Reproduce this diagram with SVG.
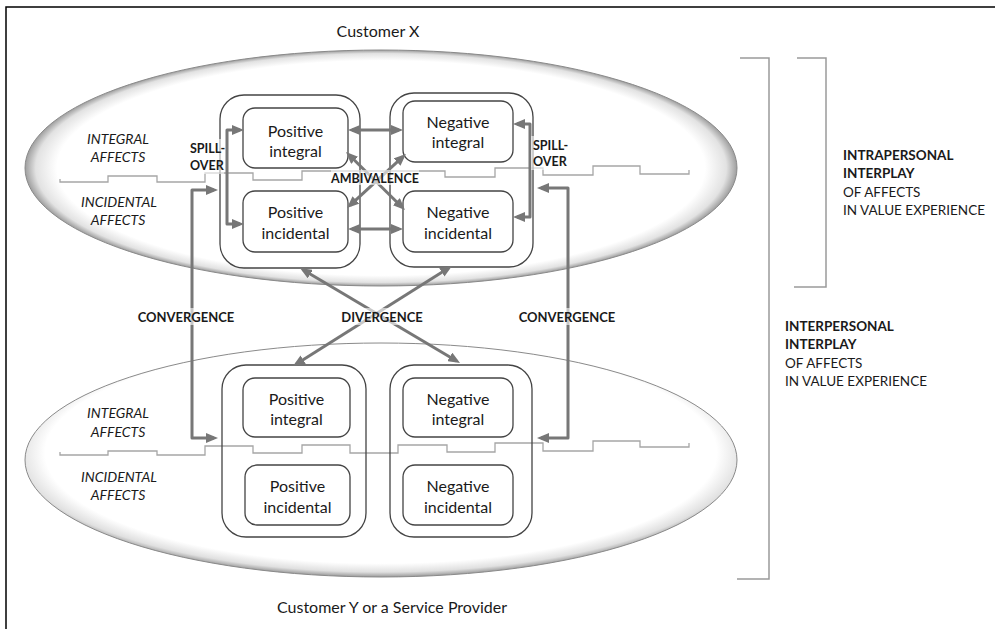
<svg xmlns="http://www.w3.org/2000/svg" width="995" height="629" viewBox="0 0 995 629">
  <defs>
    <radialGradient id="ovalShadeTop" cx="0.5" cy="0.5" r="0.5">
      <stop offset="0" stop-color="#ffffff"/>
      <stop offset="0.91" stop-color="#ffffff"/>
      <stop offset="0.97" stop-color="#e2e2e2"/>
      <stop offset="1" stop-color="#9e9e9e"/>
    </radialGradient>
    <radialGradient id="ovalShadeBottom" cx="0.5" cy="0.47" r="0.53">
      <stop offset="0" stop-color="#ffffff"/>
      <stop offset="0.89" stop-color="#ffffff"/>
      <stop offset="0.96" stop-color="#e0e0e0"/>
      <stop offset="1" stop-color="#9a9a9a"/>
    </radialGradient>
    <marker id="head" viewBox="0 0 12 10" refX="8" refY="5" markerWidth="12" markerHeight="10" markerUnits="userSpaceOnUse" orient="auto-start-reverse">
      <path d="M0,0 L12,5 L0,10 Z" fill="#777"/>
    </marker>
  </defs>
  <style>
    text { font-family: Lato, "Liberation Sans", sans-serif; fill: #1a1a1a; }
    .title { font-size: 16px; }
    .box-text { font-size: 16px; text-anchor: middle; }
    .affect { font-size: 14px; font-style: italic; text-anchor: middle; }
    .tag { font-size: 12.5px; font-weight: bold; }
    .tag-c { font-size: 13px; font-weight: bold; text-anchor: middle; }
    .side { font-size: 13.5px; }
    .side-b { font-size: 13.5px; font-weight: bold; }
    .oval { stroke: #8a8a8a; stroke-width: 1; }
    .wave { fill: none; stroke: #a6a6a6; stroke-width: 1.3; }
    .outer { fill: none; stroke: #444; stroke-width: 1.3; }
    .inner { fill: #fff; stroke: #444; stroke-width: 1.3; }
    .arrow { fill: none; stroke: #777; stroke-width: 3; stroke-linejoin: round; marker-start: url(#head); marker-end: url(#head); }
    .bracket { fill: none; stroke: #9a9a9a; stroke-width: 1.5; }
    .halo { fill: #fff; opacity: 0.6; }
  </style>

  <!-- frame -->
  <rect x="6" y="7" width="1000" height="700" fill="#fff" stroke="#000" stroke-width="1.5"/>

  <!-- person ovals -->
  <ellipse id="oval-x" class="oval" cx="381" cy="168" rx="356" ry="118" fill="url(#ovalShadeTop)"/>
  <ellipse id="oval-y" class="oval" cx="381" cy="460" rx="356" ry="117" fill="url(#ovalShadeBottom)"/>

  <!-- boundary between integral and incidental affects -->
  <path class="wave" d="M60,179 V182 H108 V176 H157 V182 H205 V173 H253 V180 H302 V171 H445 V177 H495 V168 H543 V175 H593 V166 H640 V174 H689 V170"/>
  <path class="wave" d="M60,452 V455 H108 V451 H157 V455 H205 V446 H253 V453 H302 V445 H350 V453 H398 V445 H447 V452 H495 V443 H543 V451 H593 V441 H640 V447 H689 V443"/>

  <text class="title" x="378" y="37" text-anchor="middle">Customer X</text>
  <text class="title" x="392" y="613" text-anchor="middle">Customer Y or a Service Provider</text>

  <text class="affect" x="118" y="144">INTEGRAL</text>
  <text class="affect" x="118" y="162">AFFECTS</text>
  <text class="affect" x="119" y="207">INCIDENTAL</text>
  <text class="affect" x="118" y="225">AFFECTS</text>
  <text class="affect" x="118" y="418">INTEGRAL</text>
  <text class="affect" x="118" y="437">AFFECTS</text>
  <text class="affect" x="119" y="482">INCIDENTAL</text>
  <text class="affect" x="118" y="500">AFFECTS</text>

  <!-- Customer X groups -->
  <g id="x-positive">
    <rect class="outer" x="220" y="95" width="140" height="173" rx="24"/>
  </g>
  <g id="x-negative">
    <rect class="outer" x="390" y="93" width="143" height="174" rx="24"/>
  </g>
  <g id="x-positive-integral">
    <rect class="inner" x="243" y="108" width="105" height="60" rx="12"/>
    <text class="box-text" x="295.5" y="137">Positive</text>
    <text class="box-text" x="295.5" y="157">integral</text>
  </g>
  <g id="x-positive-incidental">
    <rect class="inner" x="243" y="191" width="105" height="61" rx="12"/>
    <text class="box-text" x="295.5" y="218">Positive</text>
    <text class="box-text" x="295.5" y="239">incidental</text>
  </g>
  <g id="x-negative-integral">
    <rect class="inner" x="403" y="101" width="110" height="61" rx="12"/>
    <text class="box-text" x="458" y="128">Negative</text>
    <text class="box-text" x="458" y="148">integral</text>
  </g>
  <g id="x-negative-incidental">
    <rect class="inner" x="403" y="191" width="110" height="61" rx="12"/>
    <text class="box-text" x="458" y="218">Negative</text>
    <text class="box-text" x="458" y="239">incidental</text>
  </g>

  <!-- Customer Y groups -->
  <g id="y-positive">
    <rect class="outer" x="222" y="365" width="144" height="172" rx="24"/>
  </g>
  <g id="y-negative">
    <rect class="outer" x="390" y="365" width="142" height="172" rx="24"/>
  </g>
  <g id="y-positive-integral">
    <rect class="inner" x="243" y="378" width="107" height="59" rx="12"/>
    <text class="box-text" x="296.5" y="405">Positive</text>
    <text class="box-text" x="296.5" y="425">integral</text>
  </g>
  <g id="y-positive-incidental">
    <rect class="inner" x="245" y="465" width="105" height="60" rx="12"/>
    <text class="box-text" x="297.5" y="492">Positive</text>
    <text class="box-text" x="297.5" y="513">incidental</text>
  </g>
  <g id="y-negative-integral">
    <rect class="inner" x="403" y="378" width="110" height="59" rx="12"/>
    <text class="box-text" x="458" y="405">Negative</text>
    <text class="box-text" x="458" y="425">integral</text>
  </g>
  <g id="y-negative-incidental">
    <rect class="inner" x="403" y="465" width="110" height="60" rx="12"/>
    <text class="box-text" x="458" y="492">Negative</text>
    <text class="box-text" x="458" y="513">incidental</text>
  </g>

  <!-- connectors -->
  <g id="connectors">
    <!-- ambivalence -->
    <path class="arrow" d="M352,130 L399,130"/>
    <path class="arrow" d="M352,229 L399,229"/>
    <path class="arrow" d="M348.9,154.8 L402.1,207.2"/>
    <path class="arrow" d="M403,156.7 L350,205.3"/>
    <!-- spill-over -->
    <path class="arrow" d="M240,130 H227 V224 H240"/>
    <path class="arrow" d="M517,124 H530 V217 H517"/>
    <!-- convergence -->
    <path class="arrow" d="M214,190 H192 V438 H214"/>
    <path class="arrow" d="M541,188 H568 V438 H541"/>
    <!-- divergence -->
    <path class="arrow" d="M303.4,270 L456.6,361"/>
    <path class="arrow" d="M448.6,268.1 L296.4,363.9"/>
  </g>

  <!-- relation labels -->
  <rect class="halo" x="188" y="139" width="36" height="35"/>
  <text class="tag" x="190" y="153">SPILL-</text>
  <text class="tag" x="190" y="170">OVER</text>
  <rect class="halo" x="531" y="136" width="36" height="34"/>
  <text class="tag" x="533" y="150">SPILL-</text>
  <text class="tag" x="533" y="166">OVER</text>
  <rect class="halo" x="331" y="170" width="88" height="15"/>
  <text class="tag" x="375" y="183" text-anchor="middle">AMBIVALENCE</text>
  <rect class="halo" x="136" y="308" width="100" height="17"/>
  <text class="tag-c" x="186" y="322">CONVERGENCE</text>
  <rect class="halo" x="340" y="308" width="84" height="17"/>
  <text class="tag-c" x="382" y="322">DIVERGENCE</text>
  <rect class="halo" x="517" y="308" width="100" height="17"/>
  <text class="tag-c" x="567" y="322">CONVERGENCE</text>

  <!-- scope brackets -->
  <path class="bracket" d="M740,58 H769 V579 H737"/>
  <path class="bracket" d="M797,58 H826 V287 H794"/>

  <text class="side-b" x="843" y="160">INTRAPERSONAL</text>
  <text class="side-b" x="843" y="178">INTERPLAY</text>
  <text class="side" x="843" y="197">OF AFFECTS</text>
  <text class="side" x="843" y="215">IN VALUE EXPERIENCE</text>

  <text class="side-b" x="785" y="331">INTERPERSONAL</text>
  <text class="side-b" x="785" y="349">INTERPLAY</text>
  <text class="side" x="785" y="368">OF AFFECTS</text>
  <text class="side" x="785" y="386">IN VALUE EXPERIENCE</text>
</svg>
